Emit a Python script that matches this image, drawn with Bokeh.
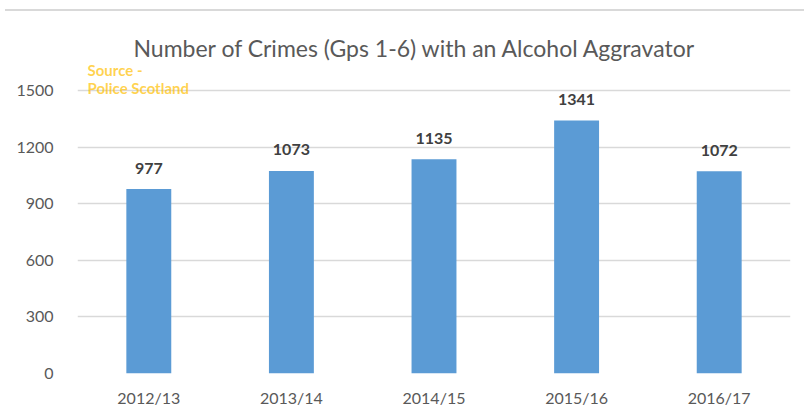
from bokeh.plotting import figure
from bokeh.models import ColumnDataSource, LabelSet, Label, FixedTicker, Div
from bokeh.layouts import column
from bokeh.core.properties import value
from bokeh.embed import file_html
from bokeh.resources import INLINE

years = ["2012/13", "2013/14", "2014/15", "2015/16", "2016/17"]
crimes = [977, 1073, 1135, 1341, 1072]
y_ticks = [0, 300, 600, 900, 1200, 1500]

title_text = "Number of Crimes (Gps 1-6) with an Alcohol Aggravator"
source_lines = ["Source -", "Police Scotland"]

src = ColumnDataSource(dict(year=years, crimes=crimes, lbl=[str(v) for v in crimes]))

p = figure(x_range=years, y_range=(0, 1653),
           frame_width=713, frame_height=312,
           output_backend="svg", toolbar_location=None, tools="",
           min_border_left=77, min_border_right=9, min_border_top=45, min_border_bottom=34)
p.x_range.range_padding = 0

p.vbar(x="year", top="crimes", width=0.315, source=src, color="#5B9BD5", line_color=None)

p.title.text = title_text
p.title.text_font = "Lato"
p.title.text_font_size = "23px"
p.title.text_font_style = "normal"
p.title.text_color = "#595959"
p.title.align = "left"
p.title.offset = 56
p.title.standoff = 0

labels = LabelSet(x="year", y="crimes", text="lbl", source=src, y_offset=21,
                  text_align="center", text_baseline="middle",
                  text_font=value("Lato"), text_font_size=value("16px"),
                  text_font_style="bold", text_color="#404040")
p.add_layout(labels)

for t, off in zip(source_lines, [20, 2]):
    p.add_layout(Label(x=0, y=1500, x_offset=10, y_offset=off, text=t,
                       text_baseline="middle", text_align="left",
                       text_font="Lato", text_font_size="15px", text_font_style="bold",
                       text_color="#FFC000", text_alpha=0.7))

p.yaxis.ticker = FixedTicker(ticks=y_ticks)
p.ygrid.ticker = FixedTicker(ticks=y_ticks)
p.ygrid.grid_line_color = "#D9D9D9"
p.ygrid.grid_line_width = 1.5
p.xgrid.grid_line_color = None

for ax in (p.xaxis, p.yaxis):
    ax.axis_line_color = None
    ax.major_tick_line_color = None
    ax.minor_tick_line_color = None
    ax.major_label_text_font = "Lato"
    ax.major_label_text_font_size = "16px"
    ax.major_label_text_color = "#595959"
p.yaxis.major_label_standoff = 18
p.xaxis.major_label_standoff = 8

p.outline_line_color = None
p.background_fill_color = "white"
p.border_fill_color = "white"

topline = Div(text="", width=799, height=4,
              styles={"border-bottom": "2px solid #D9D9D9", "box-sizing": "content-box"})

layout = column(topline, p, spacing=0)

open("out.html", "w").write(file_html(layout, INLINE))
